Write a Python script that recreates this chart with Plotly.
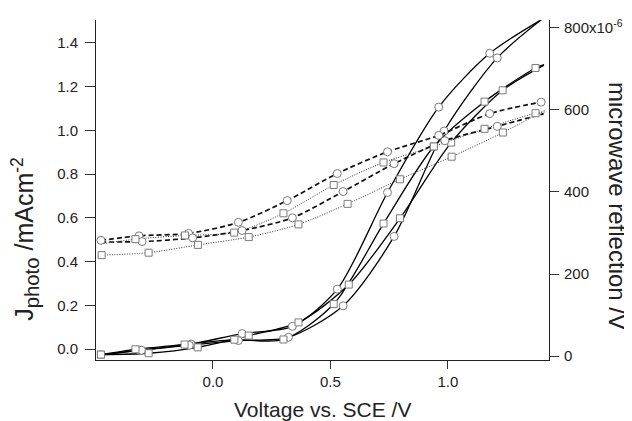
import plotly.graph_objects as go

# ---------------- data ----------------
# Photocurrent curves (left axis, mA cm^-2) vs voltage (V vs SCE)
volt_p1 = [-0.477, -0.312, -0.093, 0.124, 0.338, 0.529, 0.743, 0.961, 1.178, 1.397]
j_p1 = [-0.025, -0.005, 0.023, 0.071, 0.104, 0.274, 0.716, 1.106, 1.352, 1.505]

volt_p2 = [-0.477, -0.304, -0.101, 0.108, 0.321, 0.554, 0.771, 0.984, 1.210, 1.397]
j_p2 = [-0.027, -0.005, 0.018, 0.039, 0.054, 0.198, 0.515, 0.997, 1.331, 1.505]

volt_q1 = [-0.477, -0.274, -0.065, 0.152, 0.364, 0.578, 0.796, 1.014, 1.233, 1.409]
j_q1 = [-0.025, -0.019, 0.008, 0.062, 0.122, 0.295, 0.598, 0.944, 1.183, 1.298]

volt_q2 = [-0.477, -0.330, -0.121, 0.091, 0.300, 0.514, 0.726, 0.940, 1.156, 1.373, 1.409]
j_q2 = [-0.025, -0.001, 0.021, 0.043, 0.044, 0.206, 0.574, 0.926, 1.131, 1.285, 1.300]

# Microwave reflection curves (right axis, units of 1e-6 V)
volt_c1 = [-0.477, -0.315, -0.104, 0.108, 0.316, 0.529, 0.743, 0.961, 1.178, 1.397]
mw_c1 = [282, 293, 299, 326, 379, 445, 498, 538, 591, 619]

volt_c2 = [-0.477, -0.302, -0.087, 0.124, 0.338, 0.554, 0.771, 0.987, 1.210, 1.408]
mw_c2 = [278, 279, 288, 306, 337, 401, 469, 525, 560, 591]

volt_s1 = [-0.477, -0.330, -0.119, 0.090, 0.300, 0.514, 0.726, 0.940, 1.156, 1.373, 1.412]
mw_s1 = [273, 285, 294, 301, 348, 417, 472, 511, 554, 592, 595]

volt_s2 = [-0.474, -0.274, -0.064, 0.152, 0.364, 0.573, 0.796, 1.016, 1.234, 1.412]
mw_s2 = [246, 252, 271, 290, 321, 371, 431, 486, 545, 599]

x_ticks = [0.0, 0.5, 1.0]
x_ticklabels = ["0.0", "0.5", "1.0"]
yl_ticks = [0.0, 0.2, 0.4, 0.6, 0.8, 1.0, 1.2, 1.4]
yl_ticklabels = ["0.0", "0.2", "0.4", "0.6", "0.8", "1.0", "1.2", "1.4"]
yr_ticks = [0, 200, 400, 600, 800]
yr_ticklabels = ["0", "200", "400", "600", "800x10<sup>-6</sup>"]

# ---------------- figure ----------------
FONT = "Liberation Sans, Arial, sans-serif"
fig = go.Figure()

# (x, y, axis, symbol, line style, marker index slice)
series = [
    (volt_c1, mw_c1, "y2", "circle", dict(color="#111", width=1.7, dash="5px,3px"), slice(0, None)),
    (volt_c2, mw_c2, "y2", "circle", dict(color="#111", width=1.7, dash="5px,3px"), slice(1, -1)),
    (volt_s1, mw_s1, "y2", "square", dict(color="#333", width=1, dash="1px,1.5px"), slice(1, -1)),
    (volt_s2, mw_s2, "y2", "square", dict(color="#333", width=1, dash="1px,1.5px"), slice(0, -1)),
    (volt_p1, j_p1, "y", "circle", dict(color="#000", width=1.3), slice(1, None)),
    (volt_p2, j_p2, "y", "circle", dict(color="#000", width=1.3), slice(1, -1)),
    (volt_q1, j_q1, "y", "square", dict(color="#000", width=1.3), slice(0, -1)),
    (volt_q2, j_q2, "y", "square", dict(color="#000", width=1.3), slice(0, -1)),
]

for xs, ys, ax, sym, ln, _ in series:
    fig.add_trace(go.Scatter(x=xs, y=ys, yaxis=ax, mode="lines",
                             line=dict(shape="spline", smoothing=0.8, **ln),
                             showlegend=False, hoverinfo="skip", cliponaxis=False))

for xs, ys, ax, sym, ln, sl in series:
    fig.add_trace(go.Scatter(x=xs[sl], y=ys[sl], yaxis=ax, mode="markers",
                             marker=dict(symbol=sym, size=8 if sym == "circle" else 7,
                                         color="white", line=dict(color="#7a7a7a", width=1)),
                             showlegend=False, hoverinfo="skip", cliponaxis=False))

axis_common = dict(showgrid=False, zeroline=False, showline=True, linecolor="#222",
                   linewidth=1, ticks="outside", tickcolor="#333", tickwidth=1,
                   tickfont=dict(family=FONT, size=15, color="#222"))

# The page body has an 8px default margin, so the figure is sized to fit 632x421 exactly.
fig.update_layout(
    width=624, height=413,
    margin=dict(l=88, r=79, t=9, b=61),
    paper_bgcolor="white", plot_bgcolor="white",
    font=dict(family=FONT, color="#222"),
    xaxis=dict(range=[-0.498, 1.4304], tickvals=x_ticks, ticktext=x_ticklabels,
               ticklen=8, **axis_common),
    yaxis=dict(range=[-0.0498, 1.5043], tickvals=yl_ticks, ticktext=yl_ticklabels,
               ticklen=10, ticklabelstandoff=4, **axis_common),
    yaxis2=dict(range=[-9.67, 819.3], tickvals=yr_ticks, ticktext=yr_ticklabels,
                overlaying="y", side="right", ticklen=9, ticklabelstandoff=2, **axis_common),
    annotations=[
        dict(text="Voltage vs. SCE /V", xref="paper", yref="paper", x=0.5, y=-0.146,
             xanchor="center", yanchor="middle", showarrow=False,
             font=dict(family=FONT, size=21, color="#222")),
        dict(text="J<span style='font-size:29px'><sub>photo</sub></span> /mAcm"
                  "<span style='font-size:25px'><sup>-2</sup></span>",
             xref="paper", yref="paper",
             x=-0.155, y=0.356, xanchor="center", yanchor="middle", showarrow=False,
             textangle=-90, font=dict(family=FONT, size=25, color="#222")),
        dict(text="microwave reflection /V", xref="paper", yref="paper",
             x=1.151, y=0.452, xanchor="center", yanchor="middle", showarrow=False,
             textangle=90, font=dict(family=FONT, size=24, color="#222")),
    ],
)

fig.write_html("out.html")
